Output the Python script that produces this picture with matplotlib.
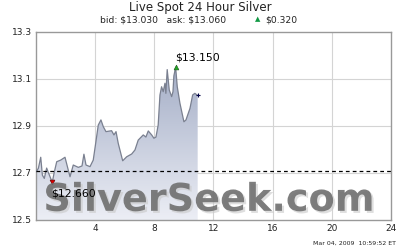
import numpy as np
import matplotlib
matplotlib.use("Agg")
import matplotlib.pyplot as plt
from matplotlib.patches import Polygon
from matplotlib.colors import LinearSegmentedColormap
import matplotlib.patheffects as pe

# data: hours since midnight, price
hours = [0.00, 0.16, 0.32, 0.43, 0.56, 0.72, 0.81, 0.95, 1.10, 1.22, 1.40, 1.67,
         1.96, 2.18, 2.30, 2.52, 2.86, 3.11, 3.24, 3.38, 3.65, 3.87, 4.05, 4.21,
         4.39, 4.55, 4.73, 5.11, 5.27, 5.41, 5.56, 5.86, 6.13, 6.47, 6.69, 6.91,
         7.25, 7.43, 7.59, 7.82, 7.97, 8.11, 8.26, 8.38, 8.49, 8.60, 8.72, 8.78,
         8.87, 9.01, 9.17, 9.26, 9.32, 9.44, 9.55, 9.73, 10.00, 10.14, 10.41,
         10.59, 10.74, 10.93]
prices = [12.704, 12.720, 12.767, 12.691, 12.677, 12.721, 12.706, 12.684, 12.660,
          12.699, 12.748, 12.755, 12.767, 12.713, 12.684, 12.734, 12.724, 12.730,
          12.780, 12.734, 12.727, 12.755, 12.833, 12.904, 12.926, 12.897, 12.876,
          12.880, 12.862, 12.876, 12.826, 12.752, 12.769, 12.781, 12.798, 12.840,
          12.862, 12.853, 12.879, 12.862, 12.848, 12.853, 12.904, 13.032, 13.067,
          13.046, 13.082, 13.039, 13.140, 13.053, 13.025, 13.046, 13.113, 13.150,
          13.067, 12.997, 12.918, 12.926, 12.975, 13.032, 13.039, 13.030]
prev_close = 12.71
high_label = r"\$13.150"
low_label = r"\$12.660"
x_ticks = [4, 8, 12, 16, 20, 24]
y_ticks = [12.5, 12.7, 12.9, 13.1, 13.3]
y_tick_labels = ["12.5", "12.7", "12.9", "13.1", "13.3"]
title = "Live Spot 24 Hour Silver"
subtitle_left = r"bid: \$13.030   ask: \$13.060"
change_text = r"\$0.320"
timestamp = "Mar 04, 2009  10:59:52 ET"
watermark = "SilverSeek.com"

fig = plt.figure(figsize=(4, 2.5), dpi=100)
ax = fig.add_axes([36/400, 30/250, 355/400, 188/250])
ax.set_xlim(0, 24)
ax.set_ylim(12.5, 13.3)

x = np.array(hours)
y = np.array(prices)

# gradient fill
verts = [(x[0], 12.5)] + list(zip(x, y)) + [(x[-1], 12.5)]
poly = Polygon(verts, closed=True, facecolor='none', edgecolor='none')
ax.add_patch(poly)
grad = np.linspace(0, 1, 256).reshape(-1, 1)
cmap = LinearSegmentedColormap.from_list("g", ["#eceef5", "#a3adc6"])
im = ax.imshow(grad, cmap=cmap, aspect='auto', origin='lower',
               extent=[0, 11, 12.5, 13.16], zorder=2)
im.set_clip_path(poly)
ax.plot(x, y, color='#7a8090', lw=0.9, zorder=3)

# grid
for t in x_ticks[:-1]:
    ax.axvline(t, color='#d4d4d4', lw=0.8, zorder=1)
for t in [12.7, 12.9, 13.1]:
    ax.axhline(t, color='#d4d4d4', lw=0.8, zorder=1)

ax.axhline(prev_close, color='black', lw=0.9, ls=(0, (3, 2.5)), zorder=4)

# markers
imax = int(np.argmax(y))
imin = int(np.argmin(y))
ax.plot(x[imax], y[imax], marker='^', color='#22aa22', ms=3.5, mec='#225522', mew=0.4, zorder=5)
ax.plot(x[imin], y[imin], marker='v', color='#dd0000', ms=3.5, mec='#550000', mew=0.4, zorder=5)
ax.plot(x[-1], y[-1], marker='+', color='#000044', ms=3, mew=0.8, zorder=5)
ax.text(x[imax] - 0.05, y[imax] + 0.022, high_label, fontsize=7.8, ha='left', va='bottom', zorder=8)
ax.text(x[imin] - 0.05, y[imin] - 0.028, low_label, fontsize=7.8, ha='left', va='top', zorder=8)

# watermark
ax.text(11.7, 12.505, watermark, fontsize=27.5, fontweight='bold', color='#707070',
        alpha=0.9, ha='center', va='bottom', zorder=7,
        path_effects=[pe.withSimplePatchShadow(offset=(1.5, -1.5), shadow_rgbFace='#c8c8c8', alpha=0.6)])

for s in ax.spines.values():
    s.set_color('#999999')
    s.set_linewidth(1.0)
ax.set_xticks(x_ticks)
ax.set_xticklabels([str(t) for t in x_ticks])
ax.set_yticks(y_ticks)
ax.set_yticklabels(y_tick_labels)
ax.tick_params(length=0, labelsize=6.5, pad=3, colors='#222222')

fig.text(0.5, 0.972, title, ha='center', va='center', fontsize=8.5, color='#222222')
fig.text(0.25, 0.918, subtitle_left, ha='left', va='center', fontsize=6.6, color='#222222')
fig.text(0.643, 0.922, "\u25B2", ha='center', va='center', fontsize=5, color='#119944')
fig.text(0.663, 0.918, change_text, ha='left', va='center', fontsize=6.6, color='#222222')
fig.text(0.99, 0.025, timestamp, ha='right', va='center', fontsize=4.5, color='#222222')

fig.savefig("out.png", dpi=100, facecolor='white')
